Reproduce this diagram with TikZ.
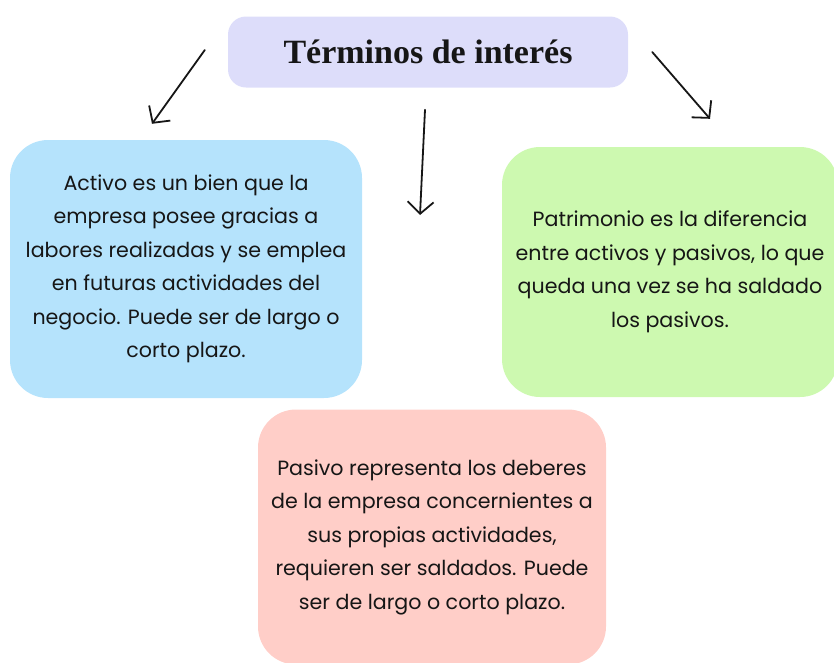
\documentclass[tikz,border=0pt]{standalone}
\usepackage{fontspec}
\setmainfont{Poppins}
\newfontfamily\titulofont{Liberation Serif}
\usetikzlibrary{arrows.meta}
\definecolor{lila}{RGB}{221,221,250}
\definecolor{celeste}{RGB}{181,227,252}
\definecolor{verde}{RGB}{205,249,176}
\definecolor{rosa}{RGB}{255,206,200}
\definecolor{tinta}{RGB}{22,22,22}
\tikzset{
  cuadro/.style={fill=#1, rounded corners=38pt, align=center, text=tinta,
    font=\fontsize{20.6}{33.5}\selectfont, inner sep=0pt},
  flecha/.style={-{Straight Barb[length=12pt,width=26pt]}, line width=1.8pt,
    draw=tinta, line cap=round},
}

\begin{document}
\begin{tikzpicture}[x=1pt, y=-1pt]
  \useasboundingbox (0,0) rectangle (834,662);

  \node (titulo) [cuadro=lila, minimum width=400pt, minimum height=71pt, rounded corners=18pt,
    font=\titulofont\bfseries\fontsize{34}{40}\selectfont] at (428,52) {Términos de interés};
  \node (activo) [cuadro=celeste, minimum width=352pt, minimum height=258pt] at (186,269)
    {Activo es un bien que la\\empresa posee gracias a\\labores realizadas y se emplea\\en futuras actividades del\\negocio. Puede ser de largo o\\corto plazo.};
  \node (patrimonio) [cuadro=verde, minimum width=336pt, minimum height=250pt] at (670,272)
    {Patrimonio es la diferencia\\entre activos y pasivos, lo que\\queda una vez se ha saldado\\los pasivos.};
  \node (pasivo) [cuadro=rosa, minimum width=348pt, minimum height=255pt] at (432,537)
    {Pasivo representa los deberes\\de la empresa concernientes a\\sus propias actividades,\\requieren ser saldados. Puede\\ser de largo o corto plazo.};

  % puntas de las flechas
  \coordinate (izqA) at ([shift={(-23,-2)}]titulo.west);
  \coordinate (izqB) at ([shift={(-34,-16)}]activo.north);
  \coordinate (cenA) at ([shift={(-3,22)}]titulo.south);
  \coordinate (cenB) at (420,215);
  \coordinate (derA) at ([shift={(24,0)}]titulo.east);
  \coordinate (derB) at ([shift={(40,-28)}]patrimonio.north);

  \draw[flecha] (izqA) -- (izqB);
  \draw[flecha] (cenA) -- (cenB);
  \draw[flecha] (derA) -- (derB);
\end{tikzpicture}
\end{document}
